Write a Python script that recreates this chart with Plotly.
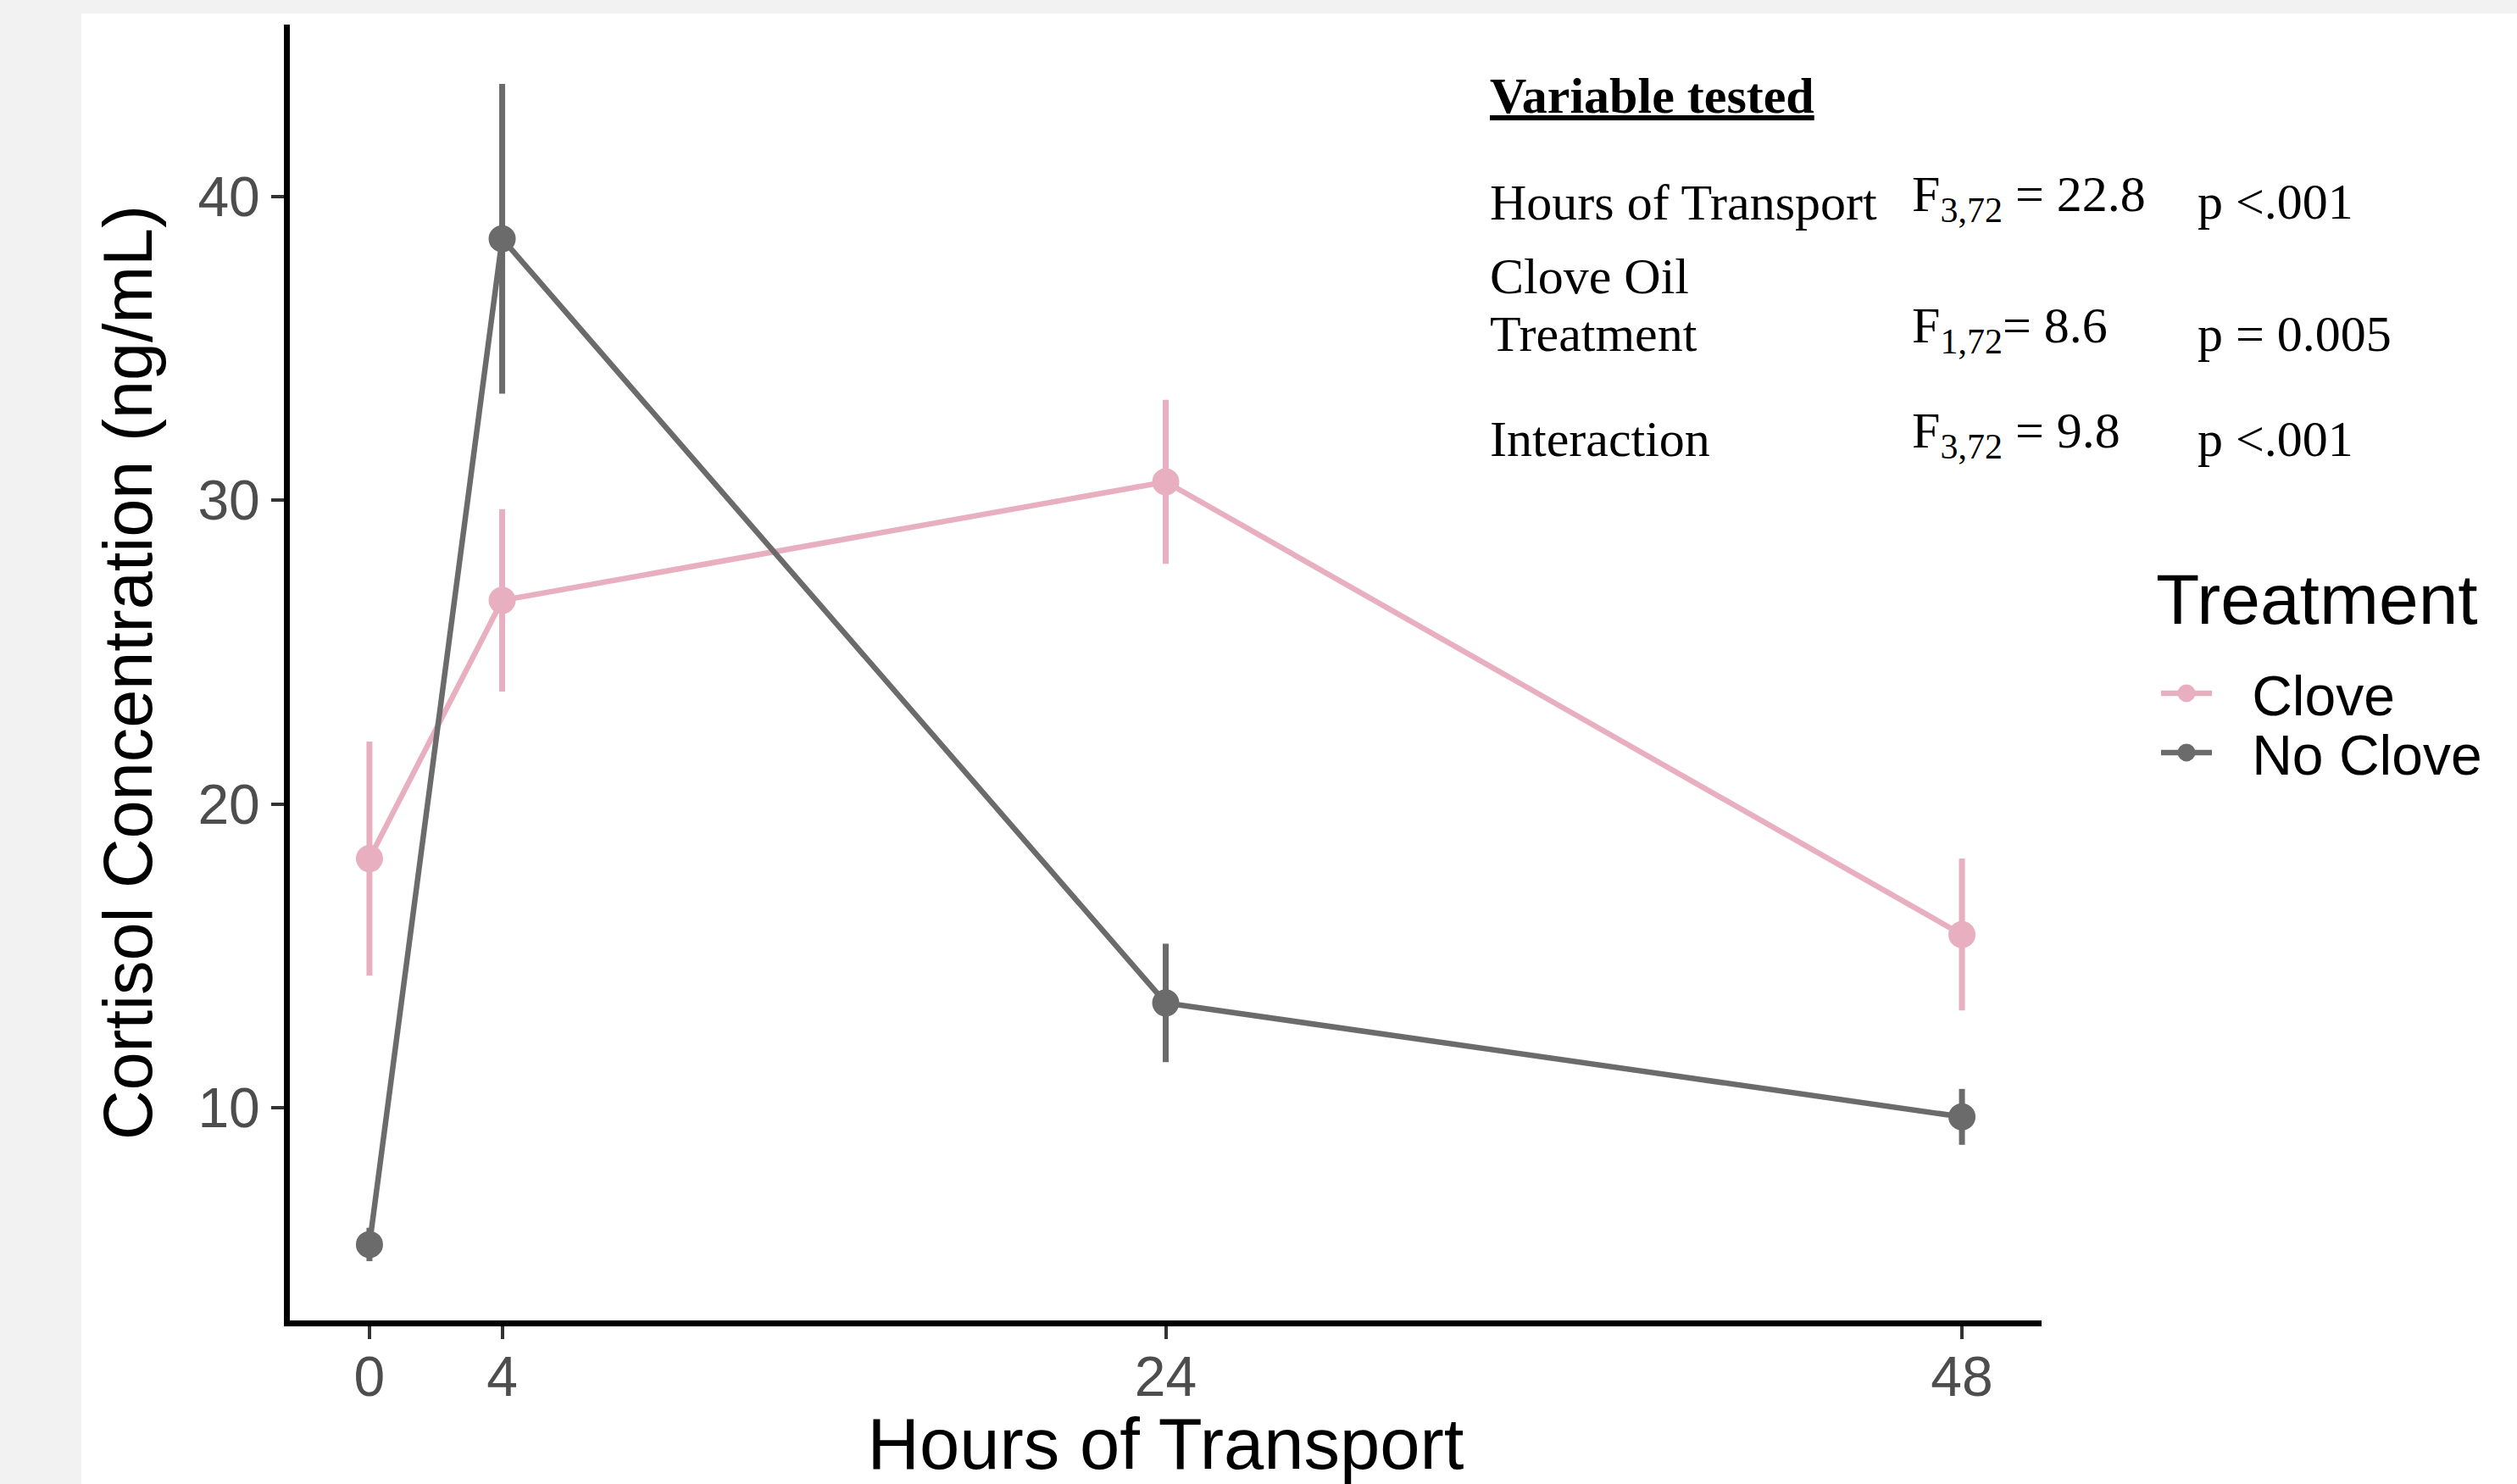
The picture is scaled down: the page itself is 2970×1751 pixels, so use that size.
import plotly.graph_objects as go

# ---- data ----
hours = [0, 4, 24, 48]
clove_mean = [18.2, 26.7, 30.6, 15.7]
clove_se = [3.85, 3.0, 2.7, 2.5]
noclove_mean = [5.5, 38.6, 13.45, 9.7]
noclove_se = [0.55, 5.1, 1.95, 0.92]
x_ticks = [0, 4, 24, 48]
y_ticks = [10, 20, 30, 40]
series_names = ["Clove", "No Clove"]

PINK = "#E8AFC0"
GREY = "#6B6B6B"

W, H = 2970, 1751
L, R, T, B = 342, 561, 29, 193
PW, PH = W - L - R, H - T - B


def px(x):
    return (x - L) / PW


def py(y):
    return (H - B - y) / PH


PAD = "\u00a0\u00a0\u200a"

fig = go.Figure()
for name, mean, se, col, lg in [(series_names[0], clove_mean, clove_se, PINK, "legend"),
                                (series_names[1], noclove_mean, noclove_se, GREY, "legend2")]:
    fig.add_trace(go.Scatter(
        x=hours, y=mean, name=PAD + name, mode="lines+markers",
        line=dict(color=col, width=6.5),
        marker=dict(color=col, size=26, line=dict(color=col, width=6)),
        error_y=dict(type="data", array=se, visible=True, color=col,
                     thickness=7, width=0),
        legend=lg,
    ))

serif = "Liberation Serif, Times New Roman, serif"
sans = "Liberation Sans, Arial, sans-serif"

annots = []


def ann(text, x, baseline, size=60, family=serif):
    top = baseline - 0.891 * size - 1
    annots.append(dict(text=text, x=px(x), y=py(top), xref="paper", yref="paper",
                       xanchor="left", yanchor="top", showarrow=False,
                       font=dict(family=family, size=size, color="black"),
                       align="left"))


ann("<b><u>Variable tested</u></b>", 1756, 132)
ann("Hours of Transport", 1756, 258)
ann("F<sub>3,72</sub> = 22.8", 2254, 248)
ann("p <.001", 2591, 257)
ann("Clove Oil", 1756, 345)
ann("Treatment", 1756, 413)
ann("F<sub>1,72</sub>= 8.6", 2254, 403)
ann("p = 0.005", 2591, 413)
ann("Interaction", 1756, 537)
ann("F<sub>3,72</sub> = 9.8", 2254, 527)
ann("p <.001", 2591, 537)
# legend title
annots.append(dict(text="Treatment", x=px(2542), y=py(735 - 0.905 * 84 - 1), xref="paper", yref="paper",
                   xanchor="left", yanchor="top", showarrow=False,
                   font=dict(family=sans, size=84, color="black")))

leg_common = dict(font=dict(size=66, color="black", family=sans),
                  xanchor="left", yanchor="middle", bgcolor="rgba(0,0,0,0)",
                  itemwidth=60, borderwidth=0)

fig.update_layout(
    width=W, height=H,
    margin=dict(l=L, r=R, t=T, b=B, pad=0, autoexpand=False),
    paper_bgcolor="#F2F2F2",
    plot_bgcolor="white",
    font=dict(family=sans),
    showlegend=True,
    legend=dict(x=px(2545), y=py(818), **leg_common),
    legend2=dict(x=px(2545), y=py(888), **leg_common),
    annotations=annots,
    shapes=[dict(type="rect", xref="paper", yref="paper",
                 x0=px(96), x1=px(W + 20), y0=py(H + 20), y1=py(16),
                 fillcolor="white", line=dict(width=0), layer="below")],
    xaxis=dict(
        range=[-2.4, 50.4], tickvals=x_ticks, ticktext=[str(v) for v in x_ticks],
        showgrid=False, zeroline=False, showline=True, linecolor="black", linewidth=7,
        ticks="outside", ticklen=15, tickwidth=4, tickcolor="#333333",
        tickfont=dict(size=66, color="#4D4D4D", family=sans), automargin=False,
        ticklabelstandoff=-12,
        title=dict(text="Hours of Transport", font=dict(size=85, color="black", family=sans), standoff=10),
    ),
    yaxis=dict(
        range=[3.0, 45.65], tickvals=y_ticks, ticktext=[str(v) for v in y_ticks],
        showgrid=False, zeroline=False, showline=True, linecolor="black", linewidth=7,
        ticks="outside", ticklen=15, tickwidth=4, tickcolor="#333333",
        tickfont=dict(size=66, color="#4D4D4D", family=sans), automargin=False,
        title=dict(text="Cortisol Concentration (ng/mL)", font=dict(size=81, color="black", family=sans), standoff=30),
    ),
)

fig.write_html("out.html")
